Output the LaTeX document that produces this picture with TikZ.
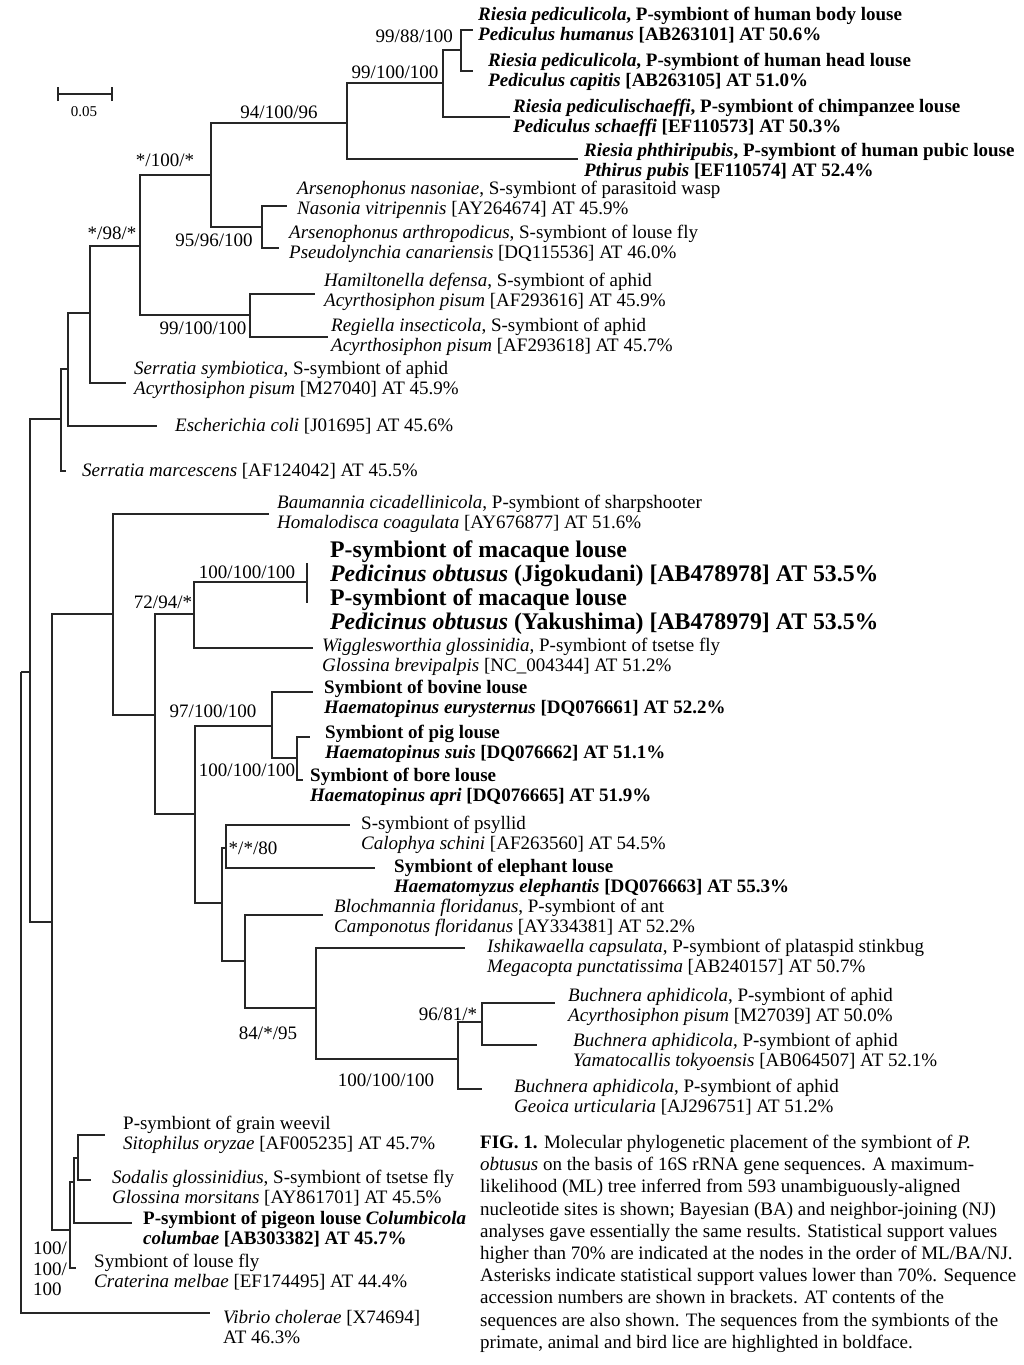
\documentclass[tikz,border=0pt]{standalone}
\usepackage{fontspec}
\setmainfont{Liberation Serif}
\begin{document}
\begin{tikzpicture}[x=1pt,y=-1pt,
  br/.style={line width=1.2pt, draw=black!85},
  leaf/.style={anchor=west, align=left, inner sep=0pt, font=\fontsize{19}{20}\selectfont},
  bleaf/.style={leaf, font=\bfseries\fontsize{19}{20}\selectfont},
  bigleaf/.style={leaf, font=\bfseries\fontsize{23.8}{24}\selectfont},
  supp/.style={inner sep=0pt, font=\fontsize{19}{20}\selectfont},
  capline/.style={anchor=base west, inner sep=0pt, font=\fontsize{19}{22}\selectfont}]
\fill[white] (0,0) rectangle (1024,1365);
\useasboundingbox (0,0) rectangle (1024,1365);

% ---------- internal nodes (x, incoming y) ----------
\coordinate (root) at (21,672);
\coordinate (n11) at (30,672);
\coordinate (n10) at (61,419);
\coordinate (n9) at (68,369);
\coordinate (n8) at (90,313);
\coordinate (n6) at (140,246);
\coordinate (n4) at (211,175);
\coordinate (n3) at (347,123);
\coordinate (n2) at (443,83);
\coordinate (n1) at (461,50);
\coordinate (n5) at (262,227);
\coordinate (n7) at (250,315);
\coordinate (n12) at (52,922);
\coordinate (n13) at (113,614);
\coordinate (n14) at (155,715);
\coordinate (n15) at (194,614);
\coordinate (mac) at (307,582);
\coordinate (n16) at (195,814);
\coordinate (n17) at (272,726);
\coordinate (n18) at (297,758);
\coordinate (n19) at (222,903);
\coordinate (n20) at (226,848);
\coordinate (n21) at (245,961);
\coordinate (n22) at (316,1008);
\coordinate (n23) at (458,1059);
\coordinate (n24) at (482,1022);
\coordinate (n25) at (70,1230);
\coordinate (n26) at (74,1182);
\coordinate (n27) at (78,1158);

% ---------- tips ----------
\coordinate (tbody) at (473,30);
\coordinate (thead) at (473,71);
\coordinate (tchimp) at (510,117);
\coordinate (tpubic) at (578,159);
\coordinate (tnas) at (287,206);
\coordinate (tarth) at (279,248);
\coordinate (tham) at (315,294);
\coordinate (treg) at (328,337);
\coordinate (tssym) at (126,383);
\coordinate (tecoli) at (157,426);
\coordinate (tmarc) at (66,471);
\coordinate (tbau) at (269,514);
\coordinate (tmacA) at (307,563);
\coordinate (tmacB) at (307,603);
\coordinate (twig) at (313,648);
\coordinate (tbov) at (313,692);
\coordinate (tpig) at (310,737);
\coordinate (tbore) at (303,780);
\coordinate (tpsy) at (350,825);
\coordinate (teleph) at (375,868);
\coordinate (tbloch) at (323,915);
\coordinate (tishi) at (465,948);
\coordinate (tbA) at (555,1003);
\coordinate (tbB) at (537,1045);
\coordinate (tgeo) at (482,1089);
\coordinate (tweev) at (105,1135);
\coordinate (tsod) at (91,1180);
\coordinate (tpig2) at (132,1223);
\coordinate (tcrat) at (76,1268);
\coordinate (tvib) at (210,1313);

% ---------- branches ----------
\draw[br] (root) |- (n11);
\draw[br] (root) |- (tvib);
\draw[br] (n11) |- (n10);
\draw[br] (n11) |- (n12);
\draw[br] (n10) |- (n9);
\draw[br] (n10) |- (tmarc);
\draw[br] (n9) |- (n8);
\draw[br] (n9) |- (tecoli);
\draw[br] (n8) |- (n6);
\draw[br] (n8) |- (tssym);
\draw[br] (n6) |- (n4);
\draw[br] (n6) |- (n7);
\draw[br] (n4) |- (n3);
\draw[br] (n4) |- (n5);
\draw[br] (n3) |- (n2);
\draw[br] (n3) |- (tpubic);
\draw[br] (n2) |- (n1);
\draw[br] (n2) |- (tchimp);
\draw[br] (n1) |- (tbody);
\draw[br] (n1) |- (thead);
\draw[br] (n5) |- (tnas);
\draw[br] (n5) |- (tarth);
\draw[br] (n7) |- (tham);
\draw[br] (n7) |- (treg);
\draw[br] (n12) |- (n13);
\draw[br] (n12) |- (n25);
\draw[br] (n13) |- (tbau);
\draw[br] (n13) |- (n14);
\draw[br] (n14) |- (n15);
\draw[br] (n14) |- (n16);
\draw[br] (n15) |- (mac);
\draw[br] (n15) |- (twig);
\draw[br] (mac) -- (tmacA);
\draw[br] (mac) -- (tmacB);
\draw[br] (n16) |- (n17);
\draw[br] (n16) |- (n19);
\draw[br] (n17) |- (tbov);
\draw[br] (n17) |- (n18);
\draw[br] (n18) |- (tpig);
\draw[br] (n18) |- (tbore);
\draw[br] (n19) |- (n20);
\draw[br] (n19) |- (n21);
\draw[br] (n20) |- (tpsy);
\draw[br] (n20) |- (teleph);
\draw[br] (n21) |- (tbloch);
\draw[br] (n21) |- (n22);
\draw[br] (n22) |- (tishi);
\draw[br] (n22) |- (n23);
\draw[br] (n23) |- (n24);
\draw[br] (n23) |- (tgeo);
\draw[br] (n24) |- (tbA);
\draw[br] (n24) |- (tbB);
\draw[br] (n25) |- (n26);
\draw[br] (n25) |- (tcrat);
\draw[br] (n26) |- (n27);
\draw[br] (n26) |- (tpig2);
\draw[br] (n27) |- (tweev);
\draw[br] (n27) |- (tsod);

% ---------- scale bar ----------
\coordinate (sbA) at (58,94);
\coordinate (sbB) at (112,94);
\draw[br] (sbA) -- (sbB);
\draw[br] ([yshift=-7pt]sbA) -- ([yshift=7pt]sbA);
\draw[br] ([yshift=-7pt]sbB) -- ([yshift=7pt]sbB);
\node[inner sep=0pt, font=\fontsize{15}{16}\selectfont] (sbl) at (84,112) {0.05};

% ---------- leaf labels ----------
\node[bleaf] (Lbody) at (478,25.5) {\textit{Riesia pediculicola}, P-symbiont of human body louse\\\textit{Pediculus humanus} [AB263101] AT 50.6\%};
\node[bleaf] (Lhead) at (488,72) {\textit{Riesia pediculicola}, P-symbiont of human head louse\\\textit{Pediculus capitis} [AB263105] AT 51.0\%};
\node[bleaf] (Lchimp) at (513,118) {\textit{Riesia pediculischaeffi}, P-symbiont of chimpanzee louse\\\textit{Pediculus schaeffi} [EF110573] AT 50.3\%};
\node[bleaf] (Lpubic) at (584,162) {\textit{Riesia phthiripubis}, P-symbiont of human pubic louse\\\textit{Pthirus pubis} [EF110574] AT 52.4\%};
\node[leaf] (Lnas) at (297,200) {\textit{Arsenophonus nasoniae}, S-symbiont of parasitoid wasp\\\textit{Nasonia vitripennis} [AY264674] AT 45.9\%};
\node[leaf] (Larth) at (289,244) {\textit{Arsenophonus arthropodicus}, S-symbiont of louse fly\\\textit{Pseudolynchia canariensis} [DQ115536] AT 46.0\%};
\node[leaf] (Lham) at (324,292) {\textit{Hamiltonella defensa}, S-symbiont of aphid\\\textit{Acyrthosiphon pisum} [AF293616] AT 45.9\%};
\node[leaf] (Lreg) at (331,336.5) {\textit{Regiella insecticola}, S-symbiont of aphid\\\textit{Acyrthosiphon pisum} [AF293618] AT 45.7\%};
\node[leaf] (Lssym) at (134,380) {\textit{Serratia symbiotica}, S-symbiont of aphid\\\textit{Acyrthosiphon pisum} [M27040] AT 45.9\%};
\node[leaf] (Lecoli) at (175,426) {\textit{Escherichia coli} [J01695] AT 45.6\%};
\node[leaf] (Lmarc) at (82,471) {\textit{Serratia marcescens} [AF124042] AT 45.5\%};
\node[leaf] (Lbau) at (277,514) {\textit{Baumannia cicadellinicola}, P-symbiont of sharpshooter\\\textit{Homalodisca coagulata} [AY676877] AT 51.6\%};
\node[bigleaf] (LmacA) at (330,564) {P-symbiont of macaque louse\\\textit{Pedicinus obtusus} (Jigokudani) [AB478978] AT 53.5\%};
\node[bigleaf] (LmacB) at (330,612) {P-symbiont of macaque louse\\\textit{Pedicinus obtusus} (Yakushima) [AB478979] AT 53.5\%};
\node[leaf] (Lwig) at (322,656.5) {\textit{Wigglesworthia glossinidia}, P-symbiont of tsetse fly\\\textit{Glossina brevipalpis} [NC\_004344] AT 51.2\%};
\node[bleaf] (Lbov) at (324,699) {Symbiont of bovine louse\\\textit{Haematopinus eurysternus} [DQ076661] AT 52.2\%};
\node[bleaf] (Lpig) at (325,743.5) {Symbiont of pig louse\\\textit{Haematopinus suis} [DQ076662] AT 51.1\%};
\node[bleaf] (Lbore) at (310,786.5) {Symbiont of bore louse\\\textit{Haematopinus apri} [DQ076665] AT 51.9\%};
\node[leaf] (Lpsy) at (361,835) {S-symbiont of psyllid\\\textit{Calophya schini} [AF263560] AT 54.5\%};
\node[bleaf] (Leleph) at (394,877.5) {Symbiont of elephant louse\\\textit{Haematomyzus elephantis} [DQ076663] AT 55.3\%};
\node[leaf] (Lbloch) at (334,918) {\textit{Blochmannia floridanus}, P-symbiont of ant\\\textit{Camponotus floridanus} [AY334381] AT 52.2\%};
\node[leaf] (Lishi) at (487,958) {\textit{Ishikawaella capsulata}, P-symbiont of plataspid stinkbug\\\textit{Megacopta punctatissima} [AB240157] AT 50.7\%};
\node[leaf] (LbA) at (568,1007) {\textit{Buchnera aphidicola}, P-symbiont of aphid\\\textit{Acyrthosiphon pisum} [M27039] AT 50.0\%};
\node[leaf] (LbB) at (573,1052) {\textit{Buchnera aphidicola}, P-symbiont of aphid\\\textit{Yamatocallis tokyoensis} [AB064507] AT 52.1\%};
\node[leaf] (Lgeo) at (514,1097) {\textit{Buchnera aphidicola}, P-symbiont of aphid\\\textit{Geoica urticularia} [AJ296751] AT 51.2\%};
\node[leaf] (Lweev) at (123,1135) {P-symbiont of grain weevil\\\textit{Sitophilus oryzae} [AF005235] AT 45.7\%};
\node[leaf] (Lsod) at (112,1188) {\textit{Sodalis glossinidius}, S-symbiont of tsetse fly\\\textit{Glossina morsitans} [AY861701] AT 45.5\%};
\node[bleaf] (Lpigeon) at (143,1229.5) {P-symbiont of pigeon louse \textit{Columbicola}\\\textit{columbae} [AB303382] AT 45.7\%};
\node[leaf] (Lcrat) at (94,1272) {Symbiont of louse fly\\\textit{Craterina melbae} [EF174495] AT 44.4\%};
\node[leaf] (Lvib) at (223,1327) {\textit{Vibrio cholerae} [X74694]\\AT 46.3\%};

% ---------- support values ----------
\node[supp, anchor=east] (s1) at (453,36) {99/88/100};
\node[supp] (s2) at (395,72) {99/100/100};
\node[supp] (s3) at (279,112) {94/100/96};
\node[supp] (s4) at (165,160) {*/100/*};
\node[supp] (s5) at (112,233) {*/98/*};
\node[supp] (s6) at (214,240) {95/96/100};
\node[supp] (s7) at (203,328) {99/100/100};
\node[supp] (s8) at (247,572) {100/100/100};
\node[supp] (s9) at (163,602) {72/94/*};
\node[supp] (s10) at (213,711) {97/100/100};
\node[supp] (s11) at (247,770) {100/100/100};
\node[supp] (s12) at (253,848) {*/*/80};
\node[supp] (s13) at (268,1033) {84/*/95};
\node[supp] (s14) at (448,1014) {96/81/*};
\node[supp] (s15) at (386,1080) {100/100/100};
\node[supp, anchor=west, align=left, font=\fontsize{19}{20.5}\selectfont] (s16) at (33,1269) {100/\\100/\\100};

% ---------- caption ----------
\node[capline] (c1) at (480,1148) {\textbf{FIG. 1.} Molecular phylogenetic placement of the symbiont of \textit{P.}};
\node[capline] (c2) at (480,1170) {\textit{obtusus} on the basis of 16S rRNA gene sequences. A maximum-};
\node[capline] (c3) at (480,1192) {likelihood (ML) tree inferred from 593 unambiguously-aligned};
\node[capline] (c4) at (480,1215) {nucleotide sites is shown; Bayesian (BA) and neighbor-joining (NJ)};
\node[capline] (c5) at (480,1237) {analyses gave essentially the same results. Statistical support values};
\node[capline] (c6) at (480,1259) {higher than 70\% are indicated at the nodes in the order of ML/BA/NJ.};
\node[capline] (c7) at (480,1281) {Asterisks indicate statistical support values lower than 70\%. Sequence};
\node[capline] (c8) at (480,1303) {accession numbers are shown in brackets. AT contents of the};
\node[capline] (c9) at (480,1326) {sequences are also shown. The sequences from the symbionts of the};
\node[capline] (c10) at (480,1348) {primate, animal and bird lice are highlighted in boldface.};
\end{tikzpicture}
\end{document}
